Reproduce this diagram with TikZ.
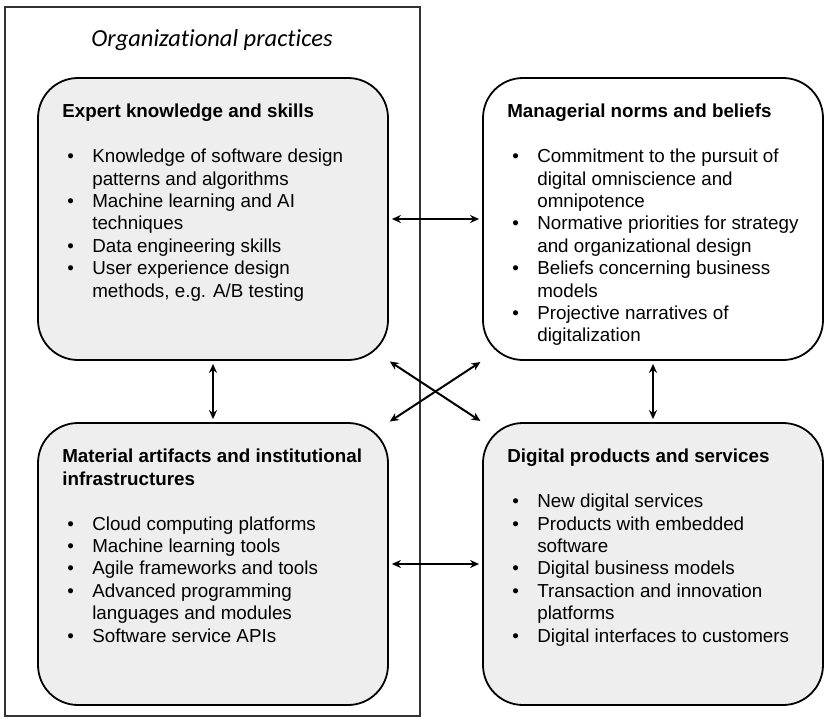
\documentclass[tikz,border=0pt]{standalone}
\usepackage{fontspec}
\setmainfont{Liberation Sans}
\newfontfamily\titlefont[Ligatures=NoCommon]{Carlito}
\usetikzlibrary{arrows.meta,positioning}

\definecolor{boxgray}{HTML}{EEEEEE}
\definecolor{framegray}{HTML}{333333}
\newcommand{\boxfont}{\fontsize{18.8}{22.4}\selectfont}
\newcommand{\bul}{\hspace{5pt}\textbullet}

\tikzset{
  practice/.style={draw, line width=1.8pt, rounded corners=40pt, minimum height=282pt},
  boxtext/.style={inner sep=0pt, font=\boxfont},
  link/.style={{Stealth[length=9pt,width=8pt]}-{Stealth[length=9pt,width=8pt]}, line width=2pt, shorten <=3pt, shorten >=3pt}
}

\begin{document}
\begin{tikzpicture}[x=1pt,y=-1pt]
    \useasboundingbox (0,0) rectangle (825,718);
    % outer frame
    \draw[framegray, line width=1.6pt] (5,7) rectangle (420,716);
    \node[anchor=base, font=\titlefont\itshape\fontsize{24.5}{28}\selectfont] (title) at (212,46) {Organizational practices};

    % the four boxes
    \node[practice, fill=boxgray, minimum width=350pt] (expert) at (213,219) {};
    \node[practice, fill=white, minimum width=340pt] (norms) at (653,219) {};
    \node[practice, fill=boxgray, minimum width=350pt] (material) at (213,564) {};
    \node[practice, fill=boxgray, minimum width=340pt] (products) at (653,564) {};

    \node[boxtext, below right=25pt and 25pt of expert.north west] (expert text) {%
        \begin{tabular}{@{}p{30pt}@{}l@{}}
        \multicolumn{2}{@{}l@{}}{\bfseries Expert knowledge and skills}\\[22.4pt]
        \bul & Knowledge of software design\\
             & patterns and algorithms\\
        \bul & Machine learning and AI\\
             & techniques\\
        \bul & Data engineering skills\\
        \bul & User experience design\\
             & methods, e.g. A/B testing
        \end{tabular}};
    \node[boxtext, below right=25pt and 25pt of norms.north west] (norms text) {%
        \begin{tabular}{@{}p{30pt}@{}l@{}}
        \multicolumn{2}{@{}l@{}}{\bfseries Managerial norms and beliefs}\\[22.4pt]
        \bul & Commitment to the pursuit of\\
             & digital omniscience and\\
             & omnipotence\\
        \bul & Normative priorities for strategy\\
             & and organizational design\\
        \bul & Beliefs concerning business\\
             & models\\
        \bul & Projective narratives of\\
             & digitalization
        \end{tabular}};
    \node[boxtext, below right=25pt and 25pt of material.north west] (material text) {%
        \begin{tabular}{@{}p{30pt}@{}l@{}}
        \multicolumn{2}{@{}l@{}}{\bfseries Material artifacts and institutional}\\
        \multicolumn{2}{@{}l@{}}{\bfseries infrastructures}\\[22.4pt]
        \bul & Cloud computing platforms\\
        \bul & Machine learning tools\\
        \bul & Agile frameworks and tools\\
        \bul & Advanced programming\\
             & languages and modules\\
        \bul & Software service APIs
        \end{tabular}};
    \node[boxtext, below right=25pt and 25pt of products.north west] (products text) {%
        \begin{tabular}{@{}p{30pt}@{}l@{}}
        \multicolumn{2}{@{}l@{}}{\bfseries Digital products and services}\\[22.4pt]
        \bul & New digital services\\
        \bul & Products with embedded\\
             & software\\
        \bul & Digital business models\\
        \bul & Transaction and innovation\\
             & platforms\\
        \bul & Digital interfaces to customers
        \end{tabular}};

    % links
    \draw[link] (expert) -- (norms);
    \draw[link] (material) -- (products);
    \draw[link] (expert) -- (material);
    \draw[link] (norms) -- (products);
    \draw[link, shorten <=1pt, shorten >=2pt] (expert.south east) -- (products.north west);
    \draw[link, shorten <=1pt, shorten >=2pt] (material.north east) -- (norms.south west);
\end{tikzpicture}
\end{document}
